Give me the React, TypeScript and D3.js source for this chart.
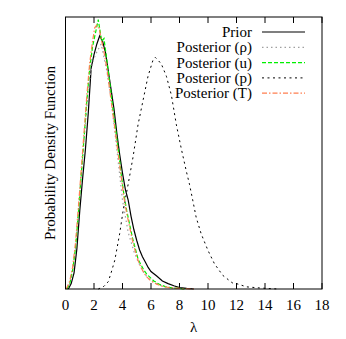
import { useRef, useEffect } from 'react'
import * as d3 from 'd3'

// [lambda, density] (arbitrary density units, peak ~1)
const prior: [number, number][] = [
  [0.2, 0], [0.4, 0.02], [0.6, 0.06], [0.8, 0.15], [1.0, 0.29], [1.2, 0.41], [1.4, 0.52],
  [1.6, 0.655], [1.8, 0.82], [2.0, 0.87], [2.2, 0.91], [2.4, 0.94], [2.6, 0.92], [2.8, 0.88],
  [3.0, 0.81], [3.2, 0.74], [3.4, 0.67], [3.6, 0.58], [3.8, 0.5], [4.0, 0.43], [4.2, 0.37],
  [4.4, 0.33], [4.6, 0.27], [4.8, 0.22], [5.0, 0.18], [5.2, 0.145], [5.4, 0.12], [5.6, 0.1],
  [5.8, 0.08], [6.0, 0.065], [6.4, 0.048], [6.8, 0.03], [7.2, 0.02], [7.6, 0.012], [8.0, 0.005],
  [8.5, 0.002], [9.0, 0]
]
const postRho: [number, number][] = [
  [0.1, 0], [0.3, 0.02], [0.5, 0.07], [0.7, 0.15], [0.9, 0.28], [1.1, 0.42], [1.3, 0.55],
  [1.5, 0.68], [1.7, 0.78], [1.9, 0.84], [2.1, 0.87], [2.3, 0.89], [2.5, 0.91], [2.7, 0.86],
  [2.9, 0.81], [3.1, 0.74], [3.3, 0.66], [3.6, 0.52], [4.0, 0.33], [4.4, 0.21], [4.8, 0.14],
  [5.1, 0.1], [5.5, 0.06], [5.8, 0.04], [6.2, 0.025], [6.8, 0.01], [7.5, 0.004], [8.5, 0]
]
const postU: [number, number][] = [
  [0.1, 0], [0.3, 0.02], [0.5, 0.07], [0.7, 0.15], [0.9, 0.28], [1.1, 0.42], [1.3, 0.56],
  [1.5, 0.7], [1.7, 0.82], [1.9, 0.9], [2.1, 0.95], [2.3, 1.0], [2.45, 0.95], [2.55, 0.92],
  [2.7, 0.93], [2.9, 0.85], [3.1, 0.77], [3.3, 0.68], [3.5, 0.6], [3.7, 0.52], [3.9, 0.43],
  [4.1, 0.35], [4.3, 0.29], [4.5, 0.24], [4.7, 0.19], [4.9, 0.15], [5.1, 0.11], [5.3, 0.09],
  [5.5, 0.07], [5.7, 0.055], [5.9, 0.045], [6.2, 0.03], [6.6, 0.017], [7.0, 0.009],
  [7.5, 0.004], [8.0, 0.002], [8.5, 0]
]
const postP: [number, number][] = [
  [2.3, 0], [2.7, 0.01], [3.0, 0.027], [3.2, 0.06], [3.46, 0.107], [3.8, 0.205], [4.04, 0.29],
  [4.4, 0.39], [4.74, 0.49], [5.09, 0.61], [5.44, 0.7], [5.79, 0.79], [6.14, 0.85], [6.3, 0.86],
  [6.49, 0.85], [6.73, 0.835], [7.08, 0.79], [7.43, 0.72], [7.78, 0.61], [8.13, 0.52],
  [8.48, 0.437], [8.7, 0.389], [8.94, 0.327], [9.17, 0.266], [9.52, 0.205], [10.0, 0.143],
  [10.45, 0.094], [11.03, 0.051], [11.7, 0.023], [12.0, 0.02], [12.7, 0.008], [13.6, 0.004],
  [14.5, 0.001], [15.0, 0]
]
const postT: [number, number][] = [
  [0.05, 0], [0.3, 0.03], [0.5, 0.08], [0.7, 0.17], [0.9, 0.3], [1.1, 0.44], [1.3, 0.58],
  [1.5, 0.72], [1.7, 0.84], [1.9, 0.92], [2.05, 0.97], [2.2, 0.98], [2.35, 0.97], [2.5, 0.93],
  [2.7, 0.88], [2.9, 0.82], [3.1, 0.74], [3.3, 0.66], [3.5, 0.58], [3.7, 0.5], [3.9, 0.42],
  [4.1, 0.34], [4.3, 0.28], [4.5, 0.23], [4.7, 0.18], [4.9, 0.14], [5.1, 0.105], [5.3, 0.08],
  [5.5, 0.06], [5.7, 0.045], [6.0, 0.03], [6.4, 0.018], [6.8, 0.01], [7.3, 0.005],
  [8.0, 0.002], [9.0, 0]
]

const seriesNames = ['Prior', 'Posterior (\u03c1)', 'Posterior (u)', 'Posterior (p)', 'Posterior (T)']
const seriesData = [prior, postRho, postU, postP, postT]
const xTicks = [0, 2, 4, 6, 8, 10, 12, 14, 16, 18]

const styles = [
  { color: '#000000', dash: null, width: 1.2 },
  { color: '#a0a0a0', dash: '1.5,3', width: 1.2 },
  { color: '#00f000', dash: '4,2', width: 1.2 },
  { color: '#000000', dash: '2,3.5', width: 1 },
  { color: '#ff7f50', dash: '5,2,1.5,2', width: 1.2 }
]

export default function App() {
  const ref = useRef<SVGSVGElement>(null)

  useEffect(() => {
    const width = 346
    const height = 339
    const left = 65.5, right = 322, top = 17, bottom = 289
    const font = '"Liberation Serif", "Times New Roman", serif'

    const svg = d3.select(ref.current)
    svg.selectAll('*').remove()

    const x = d3.scaleLinear().domain([0, 18]).range([left, right])
    const y = d3.scaleLinear().domain([0, 1.01]).range([bottom, top])

    // ticks, inward, bottom and top
    const g = svg.append('g')
    xTicks.forEach(t => {
      g.append('line').attr('x1', x(t)).attr('x2', x(t)).attr('y1', bottom).attr('y2', bottom - 6)
        .attr('stroke', 'black').attr('stroke-width', 1)
      g.append('line').attr('x1', x(t)).attr('x2', x(t)).attr('y1', top).attr('y2', top + 6)
        .attr('stroke', 'black').attr('stroke-width', 1)
      g.append('text').attr('x', x(t)).attr('y', 310).attr('text-anchor', 'middle')
        .style('font-family', font).style('font-size', '15px').text(t)
    })

    const line = d3.line<[number, number]>().x(d => x(d[0])).y(d => y(d[1]))

    const curves = svg.append('g')
    seriesData.forEach((data, i) => {
      const s = styles[i]
      curves.append('path').attr('d', line(data)).attr('fill', 'none')
        .attr('stroke', s.color).attr('stroke-width', s.width)
        .attr('stroke-dasharray', s.dash)
    })

    // legend
    const lg = svg.append('g')
    seriesNames.forEach((name, i) => {
      const yy = 32 + i * 15.3
      const s = styles[i]
      lg.append('text').attr('x', 252).attr('y', yy + 5).attr('text-anchor', 'end')
        .style('font-family', font).style('font-size', '15px').text(name)
      lg.append('line').attr('x1', 262).attr('x2', 305).attr('y1', yy).attr('y2', yy)
        .attr('stroke', s.color).attr('stroke-width', s.width)
        .attr('stroke-dasharray', s.dash)
    })

    svg.append('rect').attr('x', left).attr('y', top).attr('width', right - left)
      .attr('height', bottom - top).attr('fill', 'none').attr('stroke', 'black').attr('stroke-width', 1)

    svg.append('text').attr('x', (left + right) / 2).attr('y', 332).attr('text-anchor', 'middle')
      .style('font-family', font).style('font-size', '15px').text('\u03bb')

    svg.append('text').attr('transform', `translate(55, ${(top + bottom) / 2}) rotate(-90)`)
      .attr('text-anchor', 'middle').style('font-family', font).style('font-size', '15px')
      .text('Probability Density Function')

    svg.attr('width', width).attr('height', height)
  }, [])

  return (
    <svg ref={ref} width={346} height={339}
      style={{ position: 'absolute', left: 0, top: 0, background: 'white' }} />
  )
}
